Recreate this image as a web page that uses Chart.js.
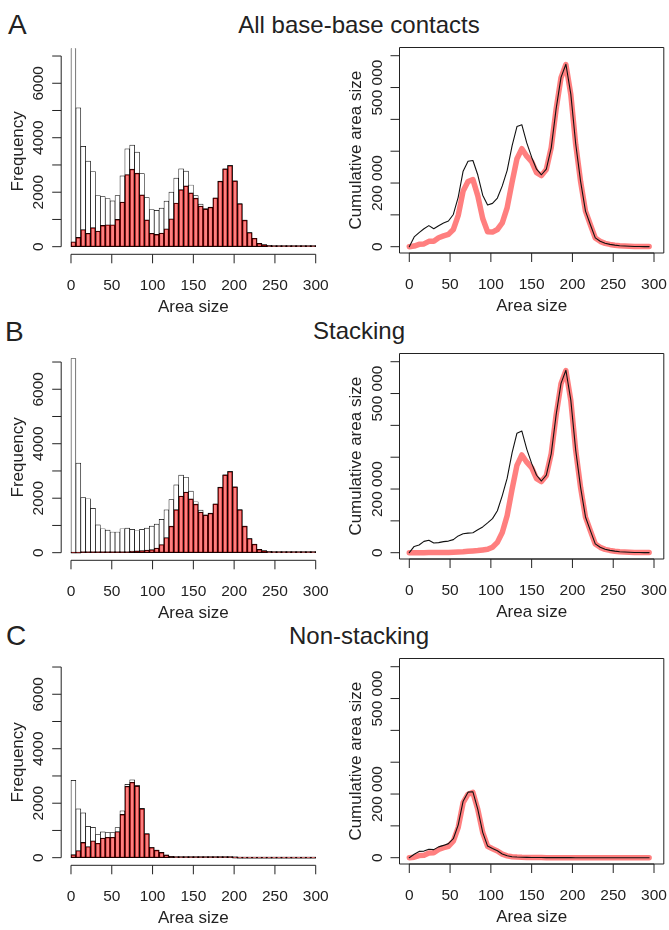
<!DOCTYPE html>
<html>
<head>
<meta charset="utf-8">
<script src="https://cdn.jsdelivr.net/npm/chart.js@4.4.1/dist/chart.umd.min.js"></script>
<style>
  html, body { margin: 0; padding: 0; background: #fff; }
  body { position: relative; width: 669px; height: 930px; overflow: hidden;
         font-family: "Liberation Sans", Arial, sans-serif; color: #222; }
  canvas { position: absolute; }
  .letter { position: absolute; font-size: 28px; line-height: 28px; }
  .title { position: absolute; left: 159px; width: 400px; text-align: center;
           font-size: 24px; line-height: 24px; }
</style>
</head>
<body>
<div class="letter" style="left:8px;top:11px">A</div>
<div class="title" style="top:13px">All base-base contacts</div>
<div class="letter" style="left:5px;top:318px">B</div>
<div class="title" style="top:319px">Stacking</div>
<div class="letter" style="left:6px;top:622px">C</div>
<div class="title" style="top:624px">Non-stacking</div>

<canvas id="histA" width="335" height="320" style="left:0"></canvas>
<canvas id="areaA" width="334" height="320" style="left:335px"></canvas>
<canvas id="histB" width="335" height="320" style="left:0"></canvas>
<canvas id="areaB" width="334" height="320" style="left:335px"></canvas>
<canvas id="histC" width="335" height="320" style="left:0"></canvas>
<canvas id="areaC" width="334" height="320" style="left:335px"></canvas>

<script>
// bins of width 6, from 0 to 300
let binWidth = 6;
let binStarts = [0, 6, 12, 18, 24, 30, 36, 42, 48, 54, 60, 66, 72, 78, 84, 90, 96, 102, 108, 114,
  120, 126, 132, 138, 144, 150, 156, 162, 168, 174, 180, 186, 192, 198, 204, 210, 216, 222, 228, 234,
  240, 246, 252, 258, 264, 270, 276, 282, 288, 294];

// A: all base-base contacts
let allTotalFreq = [9970, 5100, 3680, 3140, 2760, 1880, 1835, 1770, 1680, 1875,
  2600, 3595, 3730, 3470, 2680, 1800, 1365, 1335, 1415, 1675,
  2000, 2515, 2860, 2775, 2265, 1875, 1560, 1395, 1450, 1785,
  2405, 2860, 2985, 2420, 1585, 978, 518, 310, 122, 73,
  45, 30, 20, 12, 8, 5, 3, 2, 1, 1];
let allSubFreq = [180, 340, 630, 490, 700, 575, 780, 805, 805, 1000,
  1640, 2650, 2845, 2700, 1900, 985, 490, 450, 500, 655,
  1025, 1605, 2095, 2230, 1975, 1780, 1490, 1380, 1445, 1790,
  2400, 2855, 2980, 2415, 1575, 975, 518, 310, 120, 72,
  44, 29, 19, 12, 8, 5, 3, 2, 1, 1];
let allTotalArea = [0, 30600, 44160, 56520, 66240, 56400, 66060, 74340, 80640, 101250,
  156000, 237270, 268560, 270660, 225120, 162000, 131040, 136170, 152820, 190950,
  240000, 316890, 377520, 382950, 326160, 281250, 243360, 225990, 243600, 310590,
  432900, 531960, 573120, 479160, 323340, 205380, 111890, 68820, 27820, 17080,
  10800, 7380, 5040, 3100, 2110, 1350, 830, 560, 290, 290];
let allSubArea = [0, 2040, 7560, 8820, 16800, 17250, 28080, 33810, 38640, 54000,
  98400, 174900, 204840, 210600, 159600, 88650, 47040, 45900, 54000, 74670,
  123000, 202230, 276540, 307740, 284400, 267000, 232440, 223560, 242760, 311460,
  432000, 531030, 572160, 478170, 321300, 204750, 111890, 68820, 27360, 16850,
  10560, 7130, 4790, 3100, 2110, 1350, 830, 560, 290, 290];

// B: stacking
let stackTotalFreq = [7130, 3290, 2020, 1980, 1630, 1020, 880, 830, 760, 760,
  880, 900, 855, 805, 855, 900, 975, 1050, 1220, 1575,
  1950, 2490, 2845, 2770, 2260, 1870, 1560, 1390, 1450, 1785,
  2405, 2860, 2985, 2420, 1580, 978, 520, 312, 122, 73,
  45, 30, 20, 12, 8, 5, 3, 2, 1, 1];
let stackSubFreq = [0, 0, 5, 5, 10, 10, 10, 15, 20, 30,
  40, 40, 60, 70, 80, 95, 110, 170, 300, 555,
  975, 1580, 2080, 2225, 1975, 1780, 1490, 1380, 1445, 1790,
  2400, 2855, 2980, 2415, 1575, 975, 518, 310, 120, 72,
  44, 29, 19, 12, 8, 5, 3, 2, 1, 1];
let stackTotalArea = [0, 19740, 24240, 35640, 39120, 30600, 31680, 34860, 36480, 41040,
  52800, 59400, 61560, 62790, 71820, 81000, 93600, 107100, 131760, 179550,
  234000, 313740, 375540, 382260, 325440, 280500, 243360, 225180, 243600, 310590,
  432900, 531960, 573120, 479160, 322320, 205380, 112320, 69260, 27820, 17080,
  10800, 7380, 5040, 3100, 2110, 1350, 830, 560, 290, 290];
let stackSubArea = [0, 0, 60, 90, 240, 300, 360, 630, 960, 1620,
  2400, 2640, 4320, 5460, 6720, 8550, 10560, 17340, 32400, 63270,
  117000, 199080, 274560, 307050, 284400, 267000, 232440, 223560, 242760, 311460,
  432000, 531030, 572160, 478170, 321300, 204750, 111890, 68820, 27360, 16850,
  10560, 7130, 4790, 3100, 2110, 1350, 830, 560, 290, 290];

// C: non-stacking
let nonTotalFreq = [2840, 1790, 1645, 1150, 1115, 845, 945, 920, 920, 1105,
  1720, 2690, 2860, 2655, 1810, 885, 380, 280, 200, 100,
  50, 25, 15, 10, 8, 5, 4, 3, 2, 2,
  1, 1, 1, 1, 0, 0, 0, 0, 0, 0,
  0, 0, 0, 0, 0, 0, 0, 0, 0, 0];
let nonSubFreq = [110, 260, 560, 410, 620, 530, 720, 750, 750, 960,
  1590, 2620, 2770, 2630, 1800, 880, 375, 275, 195, 98,
  48, 24, 14, 9, 7, 4, 3, 2, 1, 1,
  1, 1, 1, 0, 0, 0, 0, 0, 0, 0,
  0, 0, 0, 0, 0, 0, 0, 0, 0, 0];
let nonTotalArea = [0, 10740, 19740, 20700, 26760, 25350, 34020, 38640, 44160, 59670,
  103200, 177540, 205920, 207090, 152040, 79650, 36480, 28560, 21600, 11400,
  6000, 3150, 1980, 1380, 1150, 750, 620, 490, 340, 350,
  180, 190, 190, 200, 0, 0, 0, 0, 0, 0,
  0, 0, 0, 0, 0, 0, 0, 0, 0, 0];
let nonSubArea = [0, 1560, 6720, 7380, 14880, 15900, 25920, 31500, 36000, 51840,
  95400, 172920, 199440, 205140, 151200, 79200, 36000, 28050, 21060, 11170,
  5760, 3020, 1850, 1240, 1010, 600, 470, 320, 170, 170,
  180, 190, 190, 0, 0, 0, 0, 0, 0, 0,
  0, 0, 0, 0, 0, 0, 0, 0, 0, 0];

// axis ticks
let areaSizeTicks = [0, 50, 100, 150, 200, 250, 300];
let freqTicks = [0, 1000, 2000, 3000, 4000, 5000, 6000, 7000];
let freqLabels = [0, 2000, 4000, 6000];
let areaTicks = [0, 100000, 200000, 300000, 400000, 500000, 600000];
let areaLabels = [0, 200000, 500000];

let rowTops = [0, 306, 611];
let red = 'rgba(255, 0, 0, 0.5)';
let ink = '#222';

function fmt(v) {
  if (v < 10000) return String(v);
  return String(v).replace(/\B(?=(\d{3})+(?!\d))/g, ' ');
}

// R-style axes: lines only over the tick range, ticks pointing outwards
let rAxes = {
  id: 'rAxes',
  afterDraw(chart, args, opts) {
    let { ctx, chartArea: area } = chart;
    let xs = chart.scales.x, ys = chart.scales.y;
    ctx.save();
    ctx.strokeStyle = ink;
    ctx.fillStyle = ink;
    ctx.lineWidth = 1;
    ctx.beginPath();
    let xa = xs.getPixelForValue(opts.xTicks[0]);
    let xb = xs.getPixelForValue(opts.xTicks[opts.xTicks.length - 1]);
    ctx.moveTo(xa, area.bottom);
    ctx.lineTo(xb, area.bottom);
    opts.xTicks.forEach((v) => {
      let p = xs.getPixelForValue(v);
      ctx.moveTo(p, area.bottom);
      ctx.lineTo(p, area.bottom + 9);
    });
    let ya = ys.getPixelForValue(opts.yTicks[0]);
    let yb = ys.getPixelForValue(opts.yTicks[opts.yTicks.length - 1]);
    ctx.moveTo(area.left, ya);
    ctx.lineTo(area.left, yb);
    opts.yTicks.forEach((v) => {
      let p = ys.getPixelForValue(v);
      ctx.moveTo(area.left, p);
      ctx.lineTo(area.left - 9, p);
    });
    if (opts.box) ctx.rect(area.left, area.top, area.right - area.left, area.bottom - area.top);
    ctx.stroke();

    ctx.font = '15.5px "Liberation Sans", Arial, sans-serif';
    ctx.textAlign = 'center';
    ctx.textBaseline = 'alphabetic';
    opts.xTicks.forEach((v) => ctx.fillText(String(v), xs.getPixelForValue(v), area.bottom + 36));
    opts.yLabels.forEach((v) => {
      ctx.save();
      ctx.translate(area.left - 18, ys.getPixelForValue(v));
      ctx.rotate(-Math.PI / 2);
      ctx.fillText(fmt(v), 0, 0);
      ctx.restore();
    });

    ctx.font = '17px "Liberation Sans", Arial, sans-serif';
    ctx.fillText(opts.xTitle, (area.left + area.right) / 2, area.bottom + 57.5);
    ctx.translate(area.left - 38.5, (area.top + area.bottom) / 2);
    ctx.rotate(-Math.PI / 2);
    ctx.fillText(opts.yTitle, 0, 0);
    ctx.restore();
  },
};

function histChart(id, row, totalFreq, subFreq) {
  let canvas = document.getElementById(id);
  canvas.style.top = rowTops[row] + 'px';
  let toBars = (vals) => binStarts.map((s, i) => ({ x: s + binWidth / 2, y: vals[i] }));
  return new Chart(canvas, {
    type: 'bar',
    data: {
      datasets: [
        { label: 'subset', data: toBars(subFreq), backgroundColor: red, order: 0 },
        { label: 'all', data: toBars(totalFreq), backgroundColor: '#fff', order: 1 },
      ],
    },
    options: {
      responsive: false,
      animation: false,
      layout: { padding: { left: 61.2, right: 9.5, top: 48.4, bottom: 65.7 } },
      datasets: {
        bar: {
          grouped: false,
          barPercentage: 1,
          categoryPercentage: 1,
          borderWidth: 0.7,
          borderColor: '#000',
          borderSkipped: false,
          minBarLength: 1,
        },
      },
      scales: {
        x: { type: 'linear', min: -12, max: 312, offset: false, display: false },
        y: { type: 'linear', min: -280, max: 7280, display: false },
      },
      plugins: {
        legend: { display: false },
        tooltip: { enabled: false },
        rAxes: {
          xTicks: areaSizeTicks, yTicks: freqTicks, yLabels: freqLabels,
          xTitle: 'Area size', yTitle: 'Frequency', box: false,
        },
      },
    },
    plugins: [rAxes],
  });
}

function areaChart(id, row, totalArea, subArea) {
  let canvas = document.getElementById(id);
  canvas.style.top = rowTops[row] + 'px';
  let toPoints = (vals) => binStarts.map((s, i) => ({ x: s, y: vals[i] }));
  return new Chart(canvas, {
    type: 'line',
    data: {
      datasets: [
        { label: 'subset', data: toPoints(subArea), borderColor: red, borderWidth: 5.5, order: 1 },
        { label: 'all', data: toPoints(totalArea), borderColor: '#111', borderWidth: 1.1, order: 0 },
      ],
    },
    options: {
      responsive: false,
      animation: false,
      layout: { padding: { left: 64.5, right: 5.2, top: 47.5, bottom: 67 } },
      elements: {
        point: { radius: 0 },
        line: { tension: 0, fill: false, borderJoinStyle: 'round', borderCapStyle: 'round' },
      },
      scales: {
        x: { type: 'linear', min: -12, max: 312, display: false },
        y: { type: 'linear', min: -19800, max: 625800, display: false },
      },
      plugins: {
        legend: { display: false },
        tooltip: { enabled: false },
        rAxes: {
          xTicks: areaSizeTicks, yTicks: areaTicks, yLabels: areaLabels,
          xTitle: 'Area size', yTitle: 'Cumulative area size', box: true,
        },
      },
    },
    plugins: [rAxes],
  });
}

histChart('histA', 0, allTotalFreq, allSubFreq);
areaChart('areaA', 0, allTotalArea, allSubArea);
histChart('histB', 1, stackTotalFreq, stackSubFreq);
areaChart('areaB', 1, stackTotalArea, stackSubArea);
histChart('histC', 2, nonTotalFreq, nonSubFreq);
areaChart('areaC', 2, nonTotalArea, nonSubArea);
</script>
</body>
</html>
